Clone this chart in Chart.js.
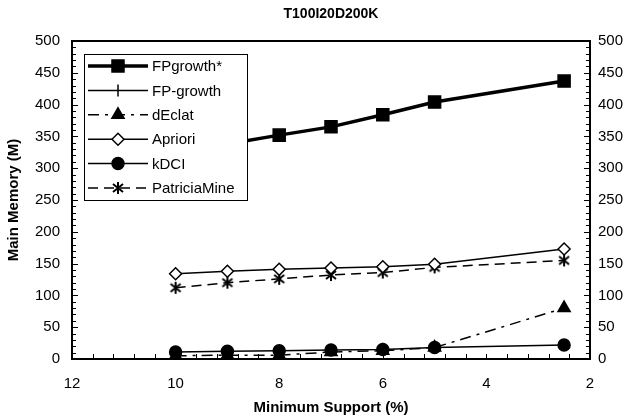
<!DOCTYPE html>
<html>
<head>
  <meta charset="utf-8">
  <title>T100I20D200K</title>
  <style type="text/css">
    body { margin: 0; background: #ffffff; }
    #wrap { width: 628px; height: 420px; }
  </style>
  <script src="https://cdn.jsdelivr.net/npm/chart.js@4.4.1/dist/chart.umd.min.js"></script>
</head>
<body>
  <div id="wrap"><canvas id="graph" width="628" height="420"></canvas></div>
  <script>
    // minimum support (%)
    const support = [10, 9, 8, 7, 6, 5, 2.5];
    const fpgrowthStar = [325, 338, 352, 365, 384, 404, 437];
    const fpgrowth = [null, null, null, null, null, null, null];
    const declat = [5, 6, 6, 11, 13, 18, 80];
    const apriori = [134, 138, 141, 143, 145, 149, 173];
    const kdci = [11, 12, 13, 14, 15, 18, 22];
    const patricia = [112, 120, 126, 132, 136, 144, 155];
    const yTicks = [0, 50, 100, 150, 200, 250, 300, 350, 400, 450, 500];
    const xTicks = [12, 10, 8, 6, 4, 2];

    const FONT = "'Liberation Sans', Arial, sans-serif";

    // asterisk marker for PatriciaMine
    function makeStar() {
      var c = document.createElement('canvas');
      c.width = 14; c.height = 14;
      var g = c.getContext('2d');
      g.strokeStyle = '#000';
      g.lineWidth = 2;
      g.beginPath();
      g.moveTo(7, 1); g.lineTo(7, 13);
      g.moveTo(2, 3); g.lineTo(12, 11);
      g.moveTo(12, 3); g.lineTo(2, 11);
      g.stroke();
      return c;
    }
    const starImg = makeStar();

    function pts(ys) {
      return support.map(function (x, i) { return {x: x, y: ys[i]}; });
    }

    const datasets = [
      { label: 'FPgrowth*', data: pts(fpgrowthStar), borderWidth: 3.5, pointStyle: 'rect', pointRadius: 8.5, backgroundColor: '#000' },
      { label: 'FP-growth', data: pts(fpgrowth), borderWidth: 1.5, pointStyle: 'line', pointRotation: 90, pointRadius: 6, backgroundColor: '#000' },
      { label: 'dEclat', data: pts(declat), borderWidth: 1.5, borderDash: [11, 6, 3, 6], pointStyle: 'triangle', pointRadius: 7, backgroundColor: '#000' },
      { label: 'Apriori', data: pts(apriori), borderWidth: 1.5, pointStyle: 'rectRot', pointRadius: 6, backgroundColor: '#fff' },
      { label: 'kDCI', data: pts(kdci), borderWidth: 1.5, pointStyle: 'circle', pointRadius: 6, backgroundColor: '#000' },
      { label: 'PatriciaMine', data: pts(patricia), borderWidth: 1.5, borderDash: [10, 6], pointStyle: starImg, pointRadius: 7, backgroundColor: '#000' }
    ];
    datasets.forEach(function (d) {
      d.borderColor = '#000';
      d.pointBorderColor = '#000';
      d.pointBorderWidth = 1.5;
      d.pointBackgroundColor = d.backgroundColor;
      d.tension = 0;
      d.spanGaps = false;
    });

    // frame, inward ticks, title and the legend box
    const decor = {
      id: 'decor',
      afterDatasetsDraw: function (chart) {
        const ctx = chart.ctx;
        const a = chart.chartArea;
        const xs = chart.scales.x, ys = chart.scales.y;
        ctx.save();
        ctx.strokeStyle = '#000';
        ctx.lineWidth = 1;
        ctx.beginPath();
        for (var v = 12; v >= 2; v -= 0.4) {
          var px = Math.round(xs.getPixelForValue(v)) + 0.5;
          ctx.moveTo(px, a.bottom); ctx.lineTo(px, a.bottom - 5);
        }
        for (var w = 0; w <= 500; w += 10) {
          var py = Math.round(ys.getPixelForValue(w)) + 0.5;
          var len = (w % 50 === 0) ? 6 : 4;
          ctx.moveTo(a.left, py); ctx.lineTo(a.left + len, py);
          ctx.moveTo(a.right, py); ctx.lineTo(a.right - len, py);
        }
        ctx.stroke();

        // legend
        var lx = 84, ly = 54, lw = 163, lh = 146;
        ctx.fillStyle = '#fff';
        ctx.fillRect(lx, ly, lw, lh);
        ctx.lineWidth = 1;
        ctx.strokeRect(lx + 0.5, ly + 0.5, lw, lh);
        chart.data.datasets.forEach(function (d, i) {
          var y = 66 + i * 24.4;
          ctx.save();
          ctx.strokeStyle = '#000';
          ctx.lineWidth = d.borderWidth;
          ctx.setLineDash(d.borderDash || []);
          ctx.beginPath();
          ctx.moveTo(88, y); ctx.lineTo(148, y);
          ctx.stroke();
          ctx.setLineDash([]);
          ctx.fillStyle = d.pointBackgroundColor;
          ctx.lineWidth = d.pointBorderWidth;
          Chart.helpers.drawPoint(ctx, {
            pointStyle: d.pointStyle, rotation: d.pointRotation || 0,
            radius: d.pointRadius, borderWidth: d.pointBorderWidth
          }, 118, y);
          ctx.restore();
          ctx.fillStyle = '#000';
          ctx.font = '15px ' + FONT;
          ctx.textAlign = 'left';
          ctx.textBaseline = 'middle';
          ctx.fillText(d.label, 152, y + 1);
        });

        // frame
        ctx.lineWidth = 2;
        ctx.strokeRect(a.left, a.top, a.right - a.left, a.bottom - a.top);

        // title
        ctx.fillStyle = '#000';
        ctx.font = 'bold 14px ' + FONT;
        ctx.textAlign = 'center';
        ctx.textBaseline = 'middle';
        ctx.fillText('T100I20D200K', (a.left + a.right) / 2, 14);
        ctx.restore();
      }
    };

    const ctx = document.getElementById('graph').getContext('2d');
    new Chart(ctx, {
      type: 'line',
      data: { datasets: datasets },
      options: {
        responsive: false,
        animation: false,
        devicePixelRatio: 1,
        layout: { padding: { top: 41, left: 0, right: 0, bottom: 0 } },
        plugins: { legend: { display: false }, title: { display: false }, tooltip: { enabled: false } },
        scales: {
          x: {
            type: 'linear', reverse: true, min: 2, max: 12,
            afterBuildTicks: function (s) { s.ticks = xTicks.map(function (v) { return {value: v}; }); },
            afterFit: function (s) { s.height = 61; },
            grid: { display: false, drawTicks: false },
            border: { display: false },
            ticks: { color: '#000', padding: 16, font: { family: FONT, size: 15 }, maxRotation: 0 },
            title: { display: true, text: 'Minimum Support (%)', color: '#000', padding: { top: 0, bottom: 3 }, font: { family: FONT, size: 15, weight: 'bold' } }
          },
          y: {
            position: 'left', min: 0, max: 500,
            afterBuildTicks: function (s) { s.ticks = yTicks.map(function (v) { return {value: v}; }); },
            afterFit: function (s) { s.width = 72; },
            grid: { display: false, drawTicks: false },
            border: { display: false },
            ticks: { color: '#000', padding: 12, font: { family: FONT, size: 15 } },
            title: { display: true, text: 'Main Memory (M)', color: '#000', padding: { top: 5, bottom: 0 }, font: { family: FONT, size: 15, weight: 'bold' } }
          },
          y1: {
            position: 'right', min: 0, max: 500,
            afterBuildTicks: function (s) { s.ticks = yTicks.map(function (v) { return {value: v}; }); },
            afterFit: function (s) { s.width = 38; },
            grid: { display: false, drawTicks: false },
            border: { display: false },
            ticks: { color: '#000', padding: 8, font: { family: FONT, size: 15 } }
          }
        }
      },
      plugins: [decor]
    });
  </script>
</body>
</html>
